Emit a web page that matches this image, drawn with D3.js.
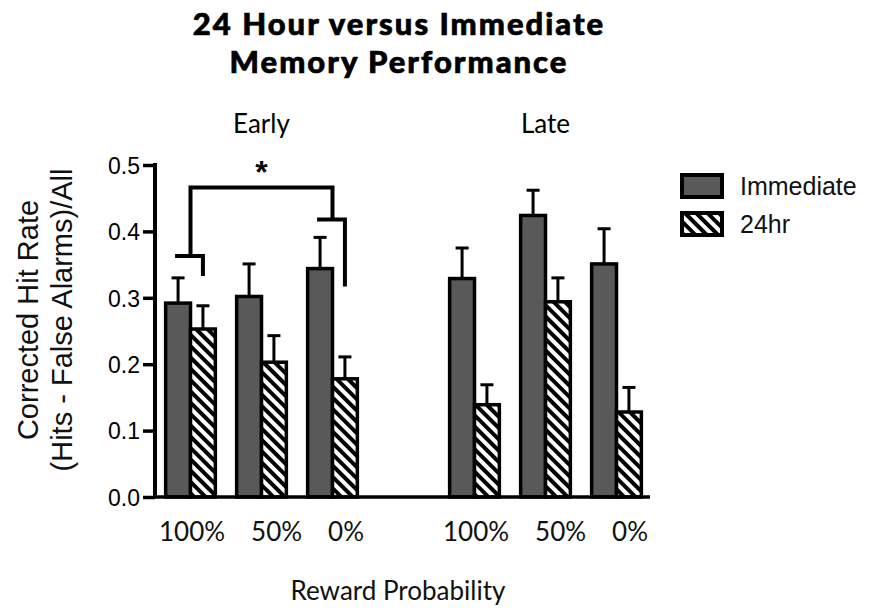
<!DOCTYPE html>
<html>
<head>
<meta charset="utf-8">
<script src="https://cdn.jsdelivr.net/npm/d3@7/dist/d3.min.js"></script>
<style>
  html, body { margin: 0; padding: 0; background: #fff; }
  svg { display: block; }
</style>
</head>
<body>
<svg id="chart" width="870" height="613"></svg>
<script>
// Memory performance: corrected hit rate by session phase and reward probability
const phases = ["Early", "Late"];
const rewards = ["100%", "50%", "0%"];
const seriesNames = ["Immediate", "24hr"];

// values in order Early 100/50/0, Late 100/50/0
const immediateMean = [0.292, 0.302, 0.344, 0.329, 0.424, 0.351];
const immediateSem  = [0.038, 0.049, 0.047, 0.046, 0.038, 0.053];
const delayedMean   = [0.253, 0.203, 0.178, 0.139, 0.294, 0.128];
const delayedSem    = [0.035, 0.040, 0.033, 0.030, 0.036, 0.037];

const yTicks = [0.0, 0.1, 0.2, 0.3, 0.4, 0.5];

const svg = d3.select("#chart");
const sansFont = "'Liberation Sans', Arial, Helvetica, sans-serif";
const humanistFont = "Lato, 'Open Sans', sans-serif";

// slot layout: three reward levels per phase with an empty slot between phases
const slots = [];
phases.forEach((p, i) => {
  if (i > 0) slots.push("gap-" + i);
  rewards.forEach(r => slots.push(p + "|" + r));
});

const plotLeft = 155, plotRight = 652, plotTop = 165, plotBottom = 497;

const x = d3.scaleBand().domain(slots).range([plotLeft, plotRight])
  .paddingInner(0.3).paddingOuter(0.15);
const xSeries = d3.scaleBand().domain(seriesNames).range([0, x.bandwidth()]);
const y = d3.scaleLinear().domain([0, 0.5]).range([plotBottom, plotTop]);

// rows of data
const rows = [];
phases.forEach((p, pi) => rewards.forEach((r, ri) => {
  const k = pi * rewards.length + ri;
  rows.push({ slot: p + "|" + r, series: "Immediate", mean: immediateMean[k], sem: immediateSem[k] });
  rows.push({ slot: p + "|" + r, series: "24hr", mean: delayedMean[k], sem: delayedSem[k] });
}));

// hatch pattern for the 24hr bars
const defs = svg.append("defs");
const hatch = defs.append("pattern")
  .attr("id", "hatch")
  .attr("patternUnits", "userSpaceOnUse")
  .attr("width", 8).attr("height", 8)
  .attr("patternTransform", "rotate(-45)");
hatch.append("rect").attr("width", 8).attr("height", 8).attr("fill", "#fff");
hatch.append("rect").attr("width", 4).attr("height", 8).attr("fill", "#000");

const fillFor = s => s === "Immediate" ? "#595959" : "url(#hatch)";

// title
svg.append("text")
  .attr("text-anchor", "middle")
  .attr("font-family", humanistFont)
  .attr("font-weight", 900)
  .attr("font-size", 31)
  .attr("letter-spacing", 2)
  .attr("stroke", "#000")
  .attr("stroke-width", 0.7)
  .selectAll("tspan")
  .data(["24 Hour versus Immediate", "Memory Performance"])
  .join("tspan")
  .attr("x", 399)
  .attr("y", (d, i) => 35 + i * 38)
  .text(d => d);

// phase labels
svg.selectAll(".phase")
  .data(phases)
  .join("text")
  .attr("class", "phase")
  .attr("x", p => x(p + "|" + rewards[1]) + x.bandwidth() / 2)
  .attr("y", 133)
  .attr("text-anchor", "middle")
  .attr("font-family", humanistFont)
  .attr("font-size", 26)
  .text(p => p);

// bars
const barG = svg.append("g");
barG.selectAll("rect")
  .data(rows)
  .join("rect")
  .attr("x", d => x(d.slot) + xSeries(d.series))
  .attr("width", xSeries.bandwidth())
  .attr("y", d => y(d.mean))
  .attr("height", d => y(0) - y(d.mean))
  .attr("fill", d => fillFor(d.series))
  .attr("stroke", "#000")
  .attr("stroke-width", 3.5);

// upper error bars
const errG = svg.append("g").attr("stroke", "#000");
errG.selectAll("line.stem")
  .data(rows)
  .join("line")
  .attr("class", "stem")
  .attr("x1", d => x(d.slot) + xSeries(d.series) + xSeries.bandwidth() / 2)
  .attr("x2", d => x(d.slot) + xSeries(d.series) + xSeries.bandwidth() / 2)
  .attr("y1", d => y(d.mean))
  .attr("y2", d => y(d.mean + d.sem))
  .attr("stroke-width", 3);
errG.selectAll("line.cap")
  .data(rows)
  .join("line")
  .attr("class", "cap")
  .attr("x1", d => x(d.slot) + xSeries(d.series) + xSeries.bandwidth() / 2 - 6.5)
  .attr("x2", d => x(d.slot) + xSeries(d.series) + xSeries.bandwidth() / 2 + 6.5)
  .attr("y1", d => y(d.mean + d.sem))
  .attr("y2", d => y(d.mean + d.sem))
  .attr("stroke-width", 3);

// y axis
const yAxis = d3.axisLeft(y).tickValues(yTicks).tickFormat(d3.format(".1f"))
  .tickSize(12).tickPadding(3);
const yg = svg.append("g").attr("transform", `translate(${plotLeft},0)`).call(yAxis);
yg.select(".domain").attr("stroke", "#000").attr("stroke-width", 4)
  .attr("d", `M0,${plotTop - 2}V${plotBottom}`);
yg.selectAll(".tick line").attr("stroke", "#000").attr("stroke-width", 3.5);
yg.selectAll(".tick text")
  .attr("font-family", sansFont).attr("font-size", 23).attr("fill", "#000")
  .attr("dy", "0.36em");

// x baseline
svg.append("line")
  .attr("x1", plotLeft).attr("x2", x.range()[1] - 2)
  .attr("y1", y(0)).attr("y2", y(0))
  .attr("stroke", "#000").attr("stroke-width", 3.5);

// reward labels, one line per phase
svg.selectAll(".rewardLabels")
  .data(phases)
  .join("text")
  .attr("class", "rewardLabels")
  .attr("x", p => x(p + "|" + rewards[1]) + x.bandwidth() / 2)
  .attr("y", 541)
  .attr("text-anchor", "middle")
  .attr("font-family", humanistFont)
  .attr("font-size", 26)
  .attr("fill", "#111")
  .selectAll("tspan")
  .data(rewards)
  .join("tspan")
  .attr("dx", (d, i) => i === 0 ? 0 : 26)
  .text(d => d);

// axis titles
svg.append("text")
  .attr("x", 398).attr("y", 600)
  .attr("text-anchor", "middle")
  .attr("font-family", humanistFont)
  .attr("font-size", 26)
  .attr("fill", "#111")
  .text("Reward Probability");

svg.append("text")
  .attr("transform", "translate(0,320) rotate(-90)")
  .attr("text-anchor", "middle")
  .attr("font-family", sansFont)
  .attr("font-size", 29)
  .attr("fill", "#111")
  .selectAll("tspan")
  .data(["Corrected Hit Rate", "(Hits - False Alarms)/All"])
  .join("tspan")
  .attr("x", 0)
  .attr("y", (d, i) => 38 + i * 34)
  .text(d => d);

// significance bracket: 24hr at 100% vs 24hr at 0% (Early)
const bracketMain = 0.466;
const bracketSub = [
  { slot: "Early|100%", level: 0.363, drop: 0.333 },
  { slot: "Early|0%",   level: 0.418, drop: 0.317 }
];
const bracketG = svg.append("g").attr("fill", "none").attr("stroke", "#000")
  .attr("stroke-width", 4).attr("stroke-linejoin", "miter");
const cx = (s, ser) => x(s) + xSeries(ser) + xSeries.bandwidth() / 2;
const legX = s => x(s) + x.bandwidth() / 2;
bracketG.append("path")
  .attr("d", `M${legX(bracketSub[0].slot)},${y(bracketSub[0].level)}V${y(bracketMain)}H${legX(bracketSub[1].slot)}V${y(bracketSub[1].level)}`);
bracketG.selectAll("path.sub")
  .data(bracketSub)
  .join("path")
  .attr("class", "sub")
  .attr("d", d => `M${cx(d.slot, "Immediate") - 3},${y(d.level)}H${cx(d.slot, "24hr")}V${y(d.drop)}`);

svg.append("text")
  .attr("x", (legX(bracketSub[0].slot) + legX(bracketSub[1].slot)) / 2)
  .attr("y", 183)
  .attr("text-anchor", "middle")
  .attr("font-family", sansFont)
  .attr("font-weight", "bold")
  .attr("font-size", 32)
  .text("*");

// legend
const legend = svg.append("g").attr("transform", "translate(682,175)");
const li = legend.selectAll("g")
  .data(seriesNames)
  .join("g")
  .attr("transform", (d, i) => `translate(0,${i * 38})`);
li.append("rect")
  .attr("width", 40).attr("height", 22)
  .attr("fill", d => fillFor(d))
  .attr("stroke", "#000").attr("stroke-width", 4);
li.append("text")
  .attr("x", 58).attr("y", 11)
  .attr("dy", "0.36em")
  .attr("font-family", sansFont)
  .attr("font-size", 25)
  .attr("fill", "#111")
  .text(d => d);
</script>
</body>
</html>
